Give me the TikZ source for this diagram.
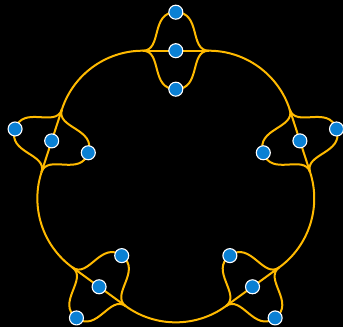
\documentclass[tikz,border=0pt]{standalone}
\usepackage{tikz}
\usetikzlibrary{calc}
\usepackage{xcolor}
\definecolor{ringgold}{RGB}{255,186,0}
\definecolor{dotblue}{RGB}{10,128,212}
\pgfdeclarelayer{back}
\pgfsetlayers{back,main}

\begin{document}
\begin{tikzpicture}[
  x=1pt, y=1pt,
  dot/.style={circle, draw=white, line width=1.1pt, fill=dotblue,
              minimum size=14pt, inner sep=0pt},
  ring/.style={draw=ringgold, line width=2pt},
  todot/.style={out looseness=1, in looseness=1.3},
  fromdot/.style={out looseness=1.3, in looseness=1}
]
\begin{pgfonlayer}{back}
\fill[black] (-175.8,-145.8) rectangle (167.2,181.2);
\end{pgfonlayer}
\useasboundingbox (-175.8,-145.8) rectangle (167.2,181.2);
\foreach \i/\a [evaluate=\a as \p using int(\a+90),
    evaluate=\a as \m using int(\a-90)] in {1/90, 2/18, 3/-54, 4/-126, 5/-198} {
  \node[dot] (mid\i) at (\a:130.5) {};
  \node[dot] (out\i) at (\a:169) {};
  \node[dot] (inn\i) at (\a:92) {};
  \coordinate (ja\i) at ($(mid\i.center)+(\p:33)$);
  \coordinate (jb\i) at ($(mid\i.center)+(\m:33)$);
  \begin{pgfonlayer}{back}
  \draw[ring] (ja\i) -- (jb\i);
  \draw[ring] (jb\i) to[out=\p, in=\m, todot] (out\i.center)
    to[out=\p, in=\m, fromdot] (ja\i);
  \draw[ring] (ja\i) to[out=\m, in=\p, todot] (inn\i.center)
    to[out=\m, in=\p, fromdot] (jb\i);
  \end{pgfonlayer}
}
\begin{pgfonlayer}{back}
\foreach \i/\a/\n [evaluate=\a as \m using int(\a-90),
    evaluate=\a as \q using int(\a+18)] in {1/90/2, 2/18/3, 3/-54/4, 4/-126/5, 5/-198/1} {
  \draw[ring, looseness=0.94] (jb\i) to[out=\m, in=\q] (ja\n);
}
\end{pgfonlayer}
\end{tikzpicture}
\end{document}
